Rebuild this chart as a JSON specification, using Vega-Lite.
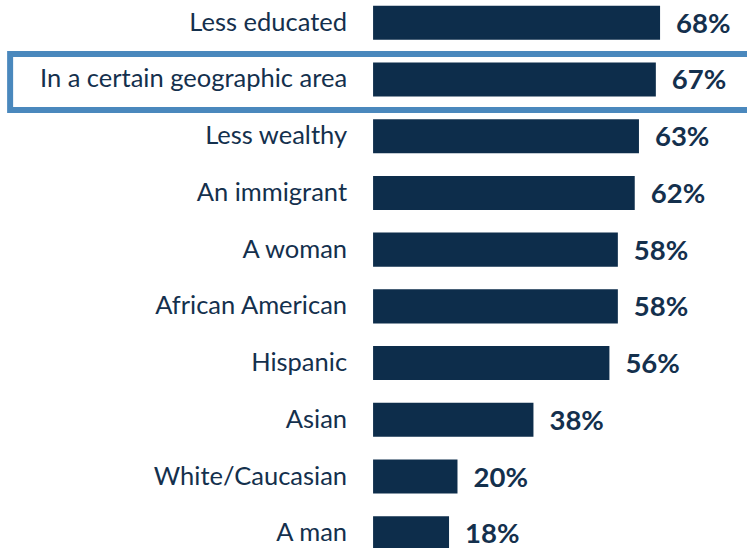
{
  "$schema": "https://vega.github.io/schema/vega-lite/v6.json",
  "width": 747,
  "height": 548,
  "autosize": {"type": "none"},
  "padding": 0,
  "background": "white",
  "config": {"view": {"stroke": null}},
  "data": {
    "values": [
      {"group": "Less educated", "pct": 0.68},
      {"group": "In a certain geographic area", "pct": 0.67},
      {"group": "Less wealthy", "pct": 0.63},
      {"group": "An immigrant", "pct": 0.62},
      {"group": "A woman", "pct": 0.58},
      {"group": "African American", "pct": 0.58},
      {"group": "Hispanic", "pct": 0.56},
      {"group": "Asian", "pct": 0.38},
      {"group": "White/Caucasian", "pct": 0.20},
      {"group": "A man", "pct": 0.18}
    ]
  },
  "encoding": {
    "y": {
      "field": "group",
      "type": "nominal",
      "axis": null,
      "scale": {
        "domain": ["Less educated", "In a certain geographic area", "Less wealthy", "An immigrant", "A woman", "African American", "Hispanic", "Asian", "White/Caucasian", "A man"],
        "range": [0, 556],
        "paddingInner": 0.4,
        "paddingOuter": 0.1
      }
    }
  },
  "layer": [
    {
      "transform": [{"filter": "datum.group === 'In a certain geographic area'"}],
      "mark": {"type": "bar", "height": 56, "yOffset": 2.5, "filled": false, "stroke": "#4a88bd", "strokeWidth": 6},
      "encoding": {
        "x": {"datum": -0.86, "type": "quantitative", "scale": {"domain": [-0.884, 0.886], "nice": false, "zero": false}, "axis": null},
        "x2": {"datum": 1.0}
      }
    },
    {
      "mark": {"type": "bar", "color": "#0d2d4b"},
      "encoding": {
        "x": {"field": "pct", "type": "quantitative"},
        "x2": {"datum": 0}
      }
    },
    {
      "mark": {"type": "text", "align": "right", "baseline": "middle", "dx": -26, "font": "Lato", "fontSize": 25.5, "color": "#14304d"},
      "encoding": {
        "x": {"datum": 0, "type": "quantitative"},
        "text": {"field": "group"}
      }
    },
    {
      "mark": {"type": "text", "align": "left", "baseline": "middle", "dx": 16, "dy": 2, "font": "Lato", "fontSize": 27.5, "fontWeight": "bold", "color": "#14304d"},
      "encoding": {
        "x": {"field": "pct", "type": "quantitative"},
        "text": {"field": "pct", "type": "quantitative", "format": ".0%"},
        "tooltip": [{"field": "group"}, {"field": "pct", "format": ".0%"}]
      }
    }
  ]
}
